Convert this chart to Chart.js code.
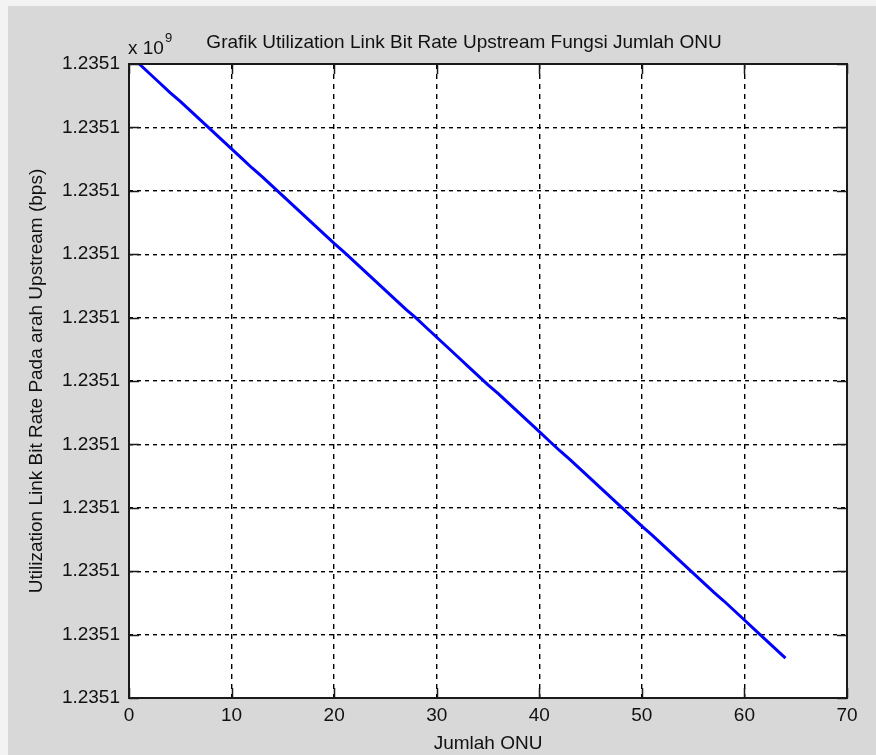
<!DOCTYPE html>
<html>
<head>
<meta charset="utf-8">
<script src="https://cdn.jsdelivr.net/npm/chart.js@4/dist/chart.umd.min.js"></script>
<style>
  html, body { margin: 0; padding: 0; background: #f3f3f3; }
  #wrap { width: 876px; height: 755px; }
</style>
</head>
<body>
<div id="wrap"><canvas id="chart" width="876" height="755"></canvas></div>
<script>
// Number of ONUs on the PON
const onuCount = [
  1, 2, 3, 4, 5, 6, 7, 8, 9, 10, 11, 12, 13, 14, 15, 16,
  17, 18, 19, 20, 21, 22, 23, 24, 25, 26, 27, 28, 29, 30, 31, 32,
  33, 34, 35, 36, 37, 38, 39, 40, 41, 42, 43, 44, 45, 46, 47, 48,
  49, 50, 51, 52, 53, 54, 55, 56, 57, 58, 59, 60, 61, 62, 63, 64
];

// Upstream link bit-rate utilization (bps)
const upstreamBitRate = [
  1235100100.0, 1235100098.5, 1235100097.0, 1235100095.5, 1235100094.1, 1235100092.6, 1235100091.1, 1235100089.6,
  1235100088.1, 1235100086.6, 1235100085.1, 1235100083.6, 1235100082.2, 1235100080.7, 1235100079.2, 1235100077.7,
  1235100076.2, 1235100074.7, 1235100073.2, 1235100071.7, 1235100070.3, 1235100068.8, 1235100067.3, 1235100065.8,
  1235100064.3, 1235100062.8, 1235100061.3, 1235100059.9, 1235100058.4, 1235100056.9, 1235100055.4, 1235100053.9,
  1235100052.4, 1235100050.9, 1235100049.4, 1235100048.0, 1235100046.5, 1235100045.0, 1235100043.5, 1235100042.0,
  1235100040.5, 1235100039.0, 1235100037.6, 1235100036.1, 1235100034.6, 1235100033.1, 1235100031.6, 1235100030.1,
  1235100028.6, 1235100027.1, 1235100025.7, 1235100024.2, 1235100022.7, 1235100021.2, 1235100019.7, 1235100018.2,
  1235100016.7, 1235100015.3, 1235100013.8, 1235100012.3, 1235100010.8, 1235100009.3, 1235100007.8, 1235100006.3
];

// Axis limits and tick steps
const xLimits = [0, 70];
const xStep = 10;
const yLimits = [1235100000, 1235100100];
const yStep = 10;
const yExponent = 9;

const titleText = 'Grafik Utilization Link Bit Rate Upstream Fungsi Jumlah ONU';
const xTitle = 'Jumlah ONU';
const yTitle = 'Utilization Link Bit Rate Pada arah Upstream (bps)';

const FONT = '"Liberation Sans", Arial, sans-serif';
const FS = 19;

const points = onuCount.map((n, i) => ({ x: n, y: upstreamBitRate[i] }));

// Grey figure window and white axes box
const figurePlugin = {
  id: 'figure',
  beforeDraw(chart) {
    const { ctx, chartArea: a } = chart;
    ctx.save();
    ctx.fillStyle = '#f3f3f3';
    ctx.fillRect(0, 0, chart.width, chart.height);
    ctx.fillStyle = '#d8d8d8';
    ctx.fillRect(8, 6, chart.width - 8, chart.height - 6);
    ctx.fillStyle = '#ffffff';
    ctx.fillRect(a.left, a.top, a.right - a.left, a.bottom - a.top);
    ctx.restore();
  },
  afterDraw(chart) {
    const { ctx, chartArea: a, scales } = chart;
    const tick = 10;
    ctx.save();
    ctx.strokeStyle = '#1a1a1a';
    ctx.lineWidth = 1.5;
    // inward tick marks on all four sides
    ctx.beginPath();
    scales.x.ticks.forEach(t => {
      const px = Math.round(scales.x.getPixelForValue(t.value)) + 0.5;
      ctx.moveTo(px, a.bottom); ctx.lineTo(px, a.bottom - tick);
      ctx.moveTo(px, a.top); ctx.lineTo(px, a.top + tick);
    });
    scales.y.ticks.forEach(t => {
      const py = Math.round(scales.y.getPixelForValue(t.value)) + 0.5;
      ctx.moveTo(a.left, py); ctx.lineTo(a.left + tick, py);
      ctx.moveTo(a.right, py); ctx.lineTo(a.right - tick, py);
    });
    ctx.stroke();
    // axes box
    ctx.lineWidth = 2;
    ctx.strokeRect(a.left, a.top, a.right - a.left, a.bottom - a.top);

    // title
    ctx.fillStyle = '#111';
    ctx.font = FS + 'px ' + FONT;
    ctx.textAlign = 'center';
    ctx.textBaseline = 'alphabetic';
    ctx.fillText(titleText, 464, 48);

    // exponent multiplier above the y axis
    ctx.textAlign = 'left';
    ctx.fillText('x 10', a.left - 1, 54);
    const w = ctx.measureText('x 10').width;
    ctx.font = '13px ' + FONT;
    ctx.fillText(String(yExponent), a.left - 1 + w + 1, 42);
    ctx.restore();
  }
};

new Chart(document.getElementById('chart'), {
  type: 'line',
  data: {
    datasets: [{
      data: points,
      borderColor: '#0000ff',
      borderWidth: 3,
      pointRadius: 0,
      tension: 0,
      fill: false
    }]
  },
  options: {
    responsive: false,
    animation: false,
    events: [],
    layout: { padding: { left: 8, top: 64, right: 29, bottom: 0 } },
    plugins: {
      legend: { display: false },
      title: { display: false },
      tooltip: { enabled: false }
    },
    scales: {
      x: {
        type: 'linear',
        min: xLimits[0],
        max: xLimits[1],
        afterFit(scale) { scale.height = 57; },
        ticks: {
          stepSize: xStep,
          color: '#111',
          font: { family: FONT, size: FS },
          padding: 6,
          maxRotation: 0,
          autoSkip: false
        },
        grid: { color: '#000', lineWidth: 1.4, drawTicks: false },
        border: { display: false, dash: [5, 5] },
        title: {
          display: true,
          text: xTitle,
          color: '#111',
          font: { family: FONT, size: FS },
          padding: { top: 2, bottom: 0 }
        }
      },
      y: {
        type: 'linear',
        min: yLimits[0],
        max: yLimits[1],
        afterFit(scale) { scale.width = 121; },
        ticks: {
          stepSize: yStep,
          color: '#111',
          font: { family: FONT, size: FS },
          padding: 9,
          autoSkip: false,
          callback: v => (v / Math.pow(10, yExponent)).toFixed(4)
        },
        grid: { color: '#000', lineWidth: 1.4, drawTicks: false },
        border: { display: false, dash: [4, 4] },
        title: {
          display: true,
          text: yTitle,
          color: '#111',
          font: { family: FONT, size: FS },
          padding: { top: 17, bottom: 0 }
        }
      }
    }
  },
  plugins: [figurePlugin]
});
</script>
</body>
</html>
